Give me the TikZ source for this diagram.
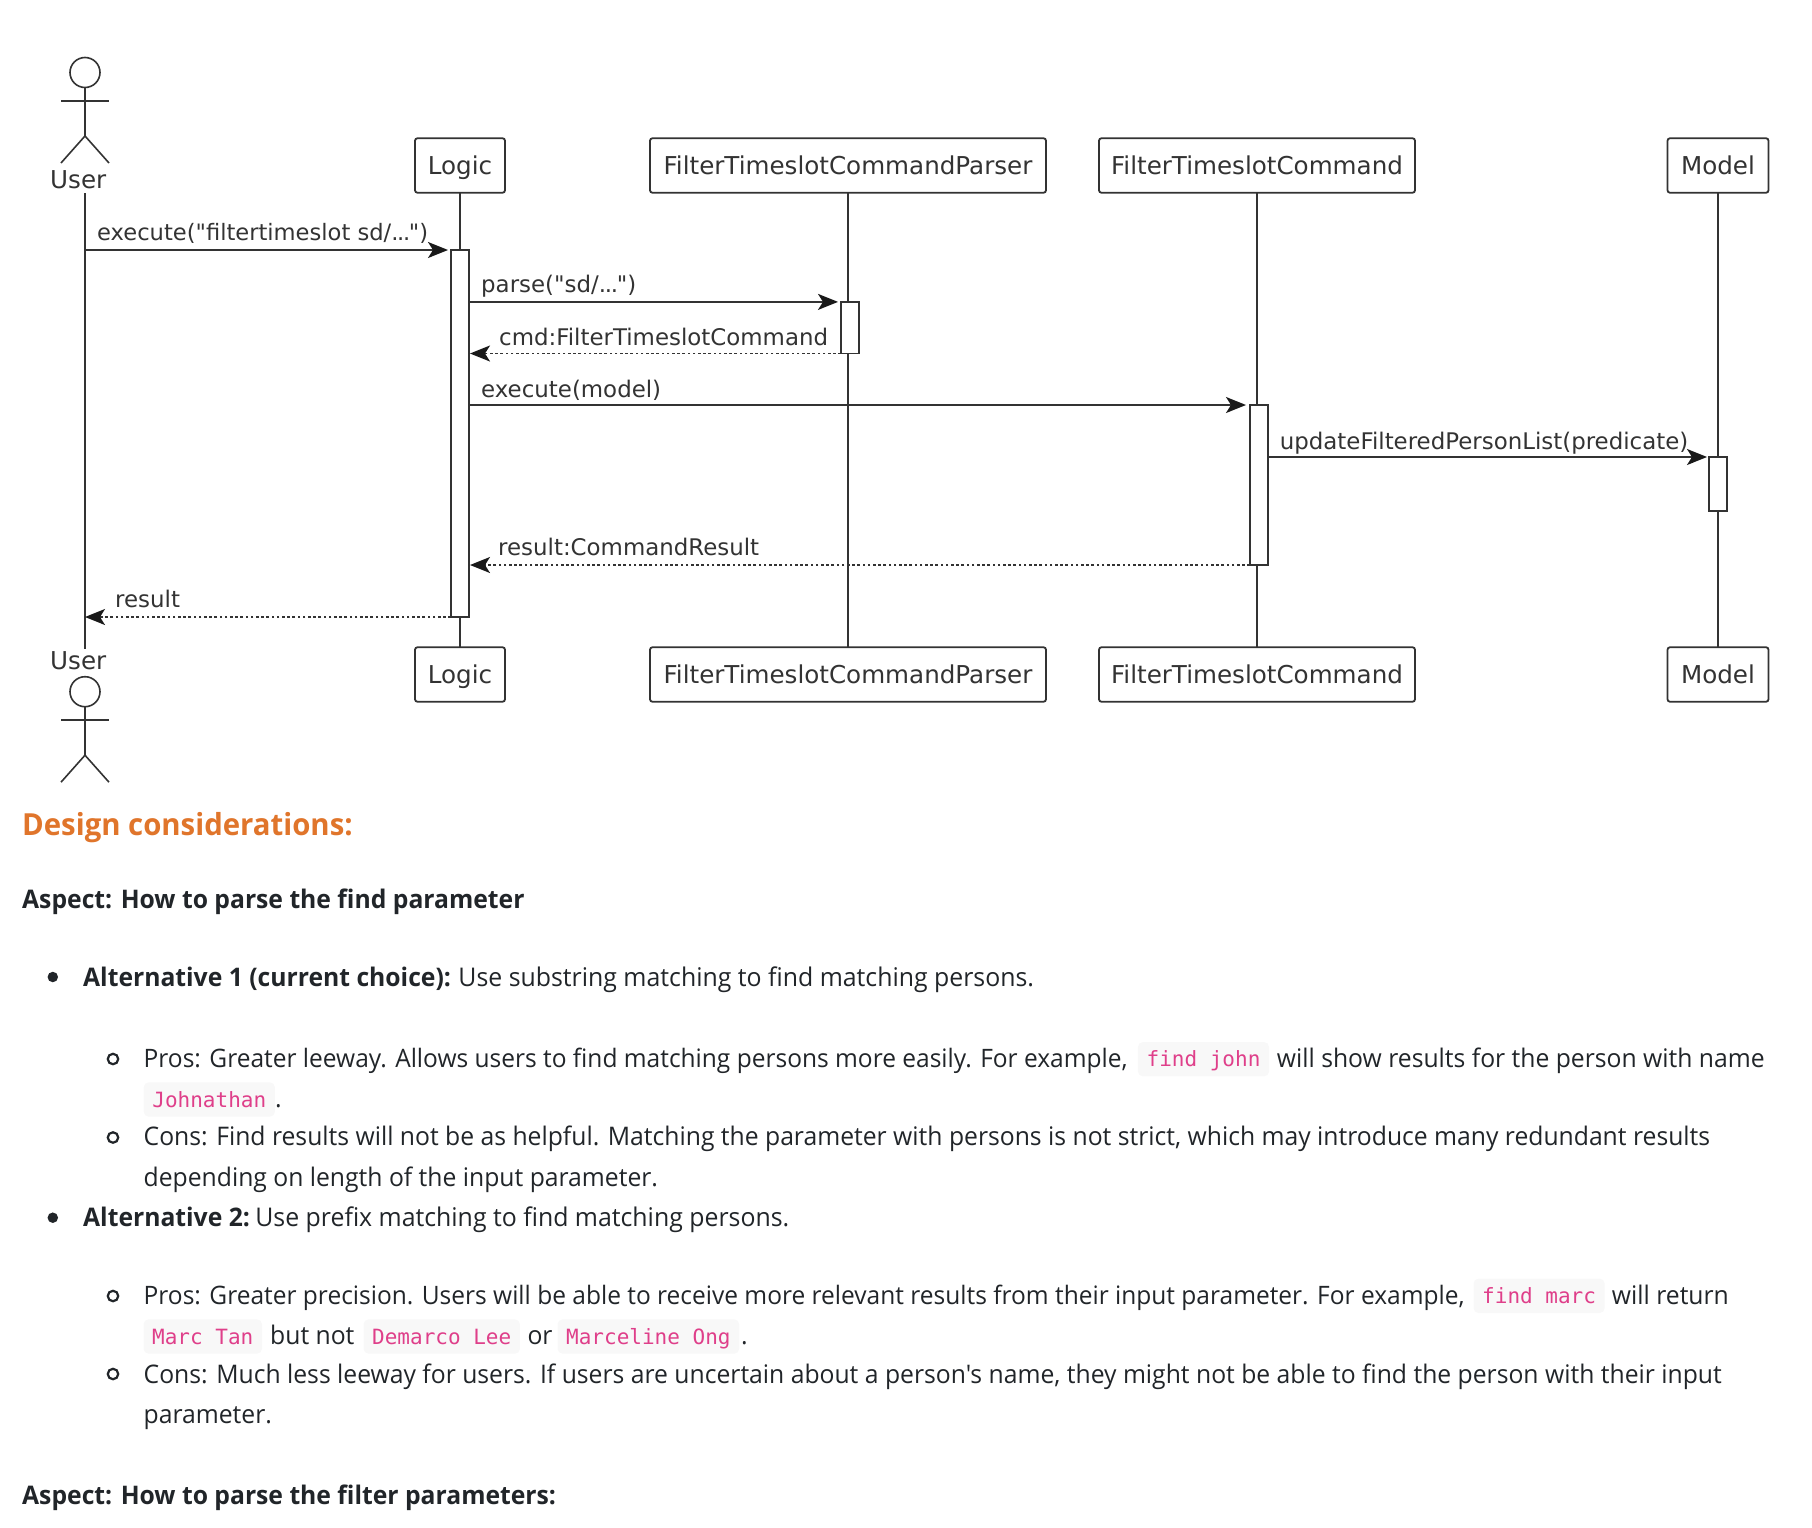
\documentclass[tikz,border=0pt]{standalone}
\usepackage{fontspec}
\usepackage{xcolor}
\usetikzlibrary{arrows.meta, positioning}
\newfontfamily\bodyfont[FakeStretch=0.965]{Open Sans}
\newfontfamily\umlfont{DejaVu Sans}
\newfontfamily\codefont{DejaVu Sans Mono}
\definecolor{umlline}{HTML}{333333}
\definecolor{umltext}{HTML}{333333}
\definecolor{bodyink}{HTML}{212529}
\definecolor{headorange}{HTML}{E0752B}
\definecolor{codepink}{HTML}{DF3F8A}
\definecolor{codebg}{HTML}{F8F8F8}
\newcommand{\tightdots}{.\kern-1.3pt.\kern-1.3pt.\kern-1.3pt}
\tikzset{
    lifebox/.style={draw=umlline, line width=1.8pt, rounded corners=2.5pt, fill=white, inner xsep=0pt, inner ysep=0pt,
        text height=22pt, text depth=5pt, minimum height=54.5pt, outer sep=0pt, text=umltext, font=\umlfont\fontsize{24.6}{28}\selectfont},
    lifeline/.style={draw=umlline, line width=1.8pt},
    actbar/.style={draw=umlline, line width=1.8pt, fill=white, minimum width=18pt, inner sep=0pt, outer sep=0pt},
    msg/.style={draw=umlline, line width=1.8pt, -{Stealth[length=20pt, width=16pt, inset=5pt, color=black!90]}},
    reply/.style={msg, dash pattern=on 2.6pt off 2.6pt},
    msglabel/.style={anchor=base west, inner sep=0pt, text=umltext, font=\umlfont\fontsize{22.9}{28}\selectfont},
    actorhead/.style={circle, draw=umlline, line width=1.6pt, minimum size=30pt, inner sep=0pt, outer sep=0pt},
    actorline/.style={draw=umlline, line width=1.6pt},
    actorlabel/.style={msglabel, font=\umlfont\fontsize{24.6}{28}\selectfont},
    bodyline/.style={anchor=base west, inner sep=0pt, text=bodyink, font=\bodyfont\fontsize{25.6}{30}\selectfont},
    tightline/.style={bodyline, font=\bodyfont\fontsize{25.4}{30}\selectfont},
    tailline/.style={bodyline, font=\bodyfont\fontsize{25.75}{30}\selectfont},
    boldline/.style={bodyline, font=\bodyfont\bfseries\fontsize{25.6}{30}\selectfont},
    chip/.style={anchor=base west, fill=codebg, rounded corners=5pt, inner xsep=8.7pt, inner ysep=0pt, text height=24.7pt, text depth=9.7pt,
        text=codepink, font=\codefont\fontsize{21}{25}\selectfont},
    bigdot/.style={circle, fill=bodyink, minimum size=10.5pt, inner sep=0pt},
    ringdot/.style={circle, draw=bodyink, line width=2.2pt, minimum size=10.5pt, inner sep=0pt},
}
\begin{document}
\begin{tikzpicture}[x=1pt, y=1pt]
    \useasboundingbox (0, 0) rectangle (1812, -1528);

    % Actor, top and bottom
    \foreach \ay/\nm in {0/headTop, -619.2/headBot} {
        \node[actorhead] (\nm) at (85, -72.5+\ay) {};
        \draw[actorline] (\nm.south) -- (85, -136+\ay);
        \draw[actorline] (61, -101+\ay) -- (109, -101+\ay);
        \draw[actorline] (61, -163+\ay) -- (85, -136+\ay) -- (109, -163+\ay);
    }
    \node[actorlabel] (userTop) at (50, -188) {User};
    \node[actorlabel] (userBot) at (50, -669) {User};
    \coordinate (userLineTop) at (85, -193);
    \coordinate (userLineBot) at (85, -649);

    % Participant boxes
    \node[lifebox, minimum width=396pt] (parserTop) at (848, -165.5) {FilterTimeslotCommandParser};
    \node[lifebox, minimum width=396pt] (parserBot) at (848, -674.5) {FilterTimeslotCommandParser};
    \node[lifebox, minimum width=90pt] (logicTop) at (460, -165.5) {Logic};
    \node[lifebox, minimum width=90pt] (logicBot) at (460, -674.5) {Logic};
    \node[lifebox, minimum width=316pt] (commandTop) at (1257, -165.5) {FilterTimeslotCommand};
    \node[lifebox, minimum width=316pt] (commandBot) at (1257, -674.5) {FilterTimeslotCommand};
    \node[lifebox, minimum width=101pt] (modelTop) at (1718, -165.5) {Model};
    \node[lifebox, minimum width=101pt] (modelBot) at (1718, -674.5) {Model};

    % Lifelines
    \draw[lifeline] (userLineTop) -- (userLineBot);
    \draw[lifeline] (logicTop) -- (logicBot);
    \draw[lifeline] (parserTop) -- (parserBot);
    \draw[lifeline] (commandTop) -- (commandBot);
    \draw[lifeline] (modelTop) -- (modelBot);

    % Activation bars
    \node[actbar, minimum height=367pt] (actLogic) at (460, -433.5) {};
    \node[actbar, minimum height=51.6pt] (actParser) at (850, -327.7) {};
    \node[actbar, minimum height=160pt] (actCommand) at (1259, -485) {};
    \node[actbar, minimum height=54pt] (actModel) at (1718, -484) {};

    % Calls
    \coordinate (userExec) at (85, -250);
    \coordinate (userResult) at (85, -617);
    \draw[msg, shorten >=3pt] (userExec) -- (actLogic.north west);
    \node[msglabel, font=\umlfont\fontsize{22.6}{28}\selectfont] (lblExec) at (97, -240.5) {execute("filtertimeslot sd/\tightdots")};
    \draw[msg, shorten >=3pt] (actLogic.east |- actParser.north) -- (actParser.north west);
    \node[msglabel] (lblParse) at (481, -292) {parse("sd/\tightdots")};
    \draw[msg, shorten >=4pt] (actLogic.east |- actCommand.north) -- (actCommand.north west);
    \node[msglabel] (lblModel) at (481, -397.5) {execute(model)};
    \draw[msg, shorten >=2pt] (actCommand.east |- actModel.north) -- (actModel.north west);
    \node[msglabel] (lblUpdate) at (1279.6, -449.5) {updateFilteredPersonList(predicate)};

    % Replies
    \draw[reply, shorten >=1pt] (actParser.south west) -- (actLogic.east |- actParser.south);
    \node[msglabel] (lblCmd) at (499, -345.5) {cmd:FilterTimeslotCommand};
    \draw[reply, shorten >=1pt] (actCommand.south west) -- (actLogic.east |- actCommand.south);
    \node[msglabel] (lblResultCmd) at (498, -555.5) {result:CommandResult};
    \draw[reply] (actLogic.south west) -- (userResult);
    \node[msglabel] (lblResult) at (115, -607) {result};

    % Text below the diagram
    \node[bodyline, text=headorange, font=\bodyfont\bfseries\fontsize{30.4}{36}\selectfont] (heading) at (22, -835) {Design considerations:};
    \node[boldline] (aspectFind) at (22, -908) {Aspect: How to parse the find parameter};

    \node[bigdot] (dotAltOne) at (52.8, -977) {};
    \node[boldline] (altOne) at (83, -986.5) {Alternative 1 (current choice):};
    \node[tailline, right=7pt of altOne.base east, anchor=base west] (altOneText) {Use substring matching to find matching persons.};

    \node[ringdot] (dotProsOne) at (113, -1059) {};
    \node[tightline] (prosOne) at (143.5, -1067.5) {Pros: Greater leeway. Allows users to find matching persons more easily. For example,};
    \node[chip] (chipJohn) at (1137.7, -1066.7) {find john};
    \node[bodyline] (prosOneEnd) at (1276.7, -1067.5) {will show results for the person with name};
    \node[chip] (chipJohnathan) at (143.5, -1107) {Johnathan};
    \node[bodyline] (prosOneStop) at (275, -1107) {.};
    \node[ringdot] (dotConsOne) at (113, -1137.5) {};
    \node[bodyline] (consOne) at (143.5, -1145.5) {Cons: Find results will not be as helpful. Matching the parameter with persons is not strict, which may introduce many redundant results};
    \node[bodyline] (consOneEnd) at (143.5, -1186.5) {depending on length of the input parameter.};

    \node[bigdot] (dotAltTwo) at (52.8, -1217.7) {};
    \node[boldline] (altTwo) at (83, -1226.8) {Alternative 2:};
    \node[tailline, right=5pt of altTwo.base east, anchor=base west] (altTwoText) {Use prefix matching to find matching persons.};

    \node[ringdot] (dotProsTwo) at (113, -1296) {};
    \node[tightline] (prosTwo) at (143.5, -1304) {Pros: Greater precision. Users will be able to receive more relevant results from their input parameter. For example,};
    \node[chip] (chipMarc) at (1473.3, -1303.3) {find marc};
    \node[bodyline] (prosTwoEnd) at (1611.7, -1304) {will return};
    \node[chip] (chipTan) at (143.3, -1344) {Marc Tan};
    \node[bodyline] (butNot) at (270, -1344) {but not};
    \node[chip] (chipLee) at (363.3, -1344) {Demarco Lee};
    \node[bodyline] (orWord) at (527.3, -1344) {or};
    \node[chip] (chipOng) at (557.3, -1344) {Marceline Ong};
    \node[bodyline] (prosTwoStop) at (741, -1344) {.};
    \node[ringdot] (dotConsTwo) at (113, -1374) {};
    \node[bodyline] (consTwo) at (143.5, -1383.3) {Cons: Much less leeway for users. If users are uncertain about a person's name, they might not be able to find the person with their input};
    \node[bodyline] (consTwoEnd) at (143.5, -1423.5) {parameter.};

    \node[boldline] (aspectFilter) at (22, -1504) {Aspect: How to parse the filter parameters:};
\end{tikzpicture}
\end{document}
